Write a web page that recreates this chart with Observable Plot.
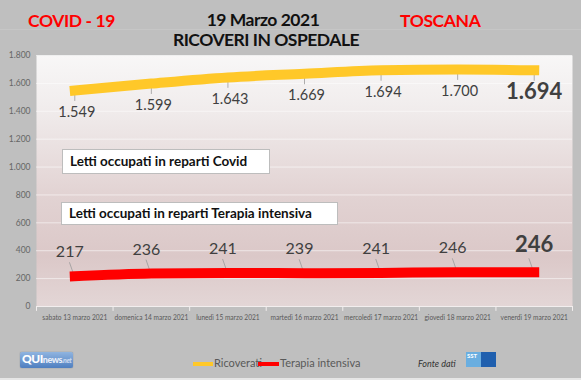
<!DOCTYPE html>
<html>
<head>
<meta charset="utf-8">
<script src="https://cdn.jsdelivr.net/npm/d3@7"></script>
<script src="https://cdn.jsdelivr.net/npm/@observablehq/plot@0.6"></script>
<style>
  html, body { margin: 0; padding: 0; background: #bfbfbf; }
  #wrap { position: relative; width: 581px; height: 380px; overflow: hidden; background: #bfbfbf; font-family: Lato, "Open Sans", sans-serif; }
  #wrap svg { position: absolute; left: 0; top: 0; }
  .abs { position: absolute; white-space: nowrap; }
  .t-red { color: #ff0000; font-weight: 700; font-size: 17.5px; letter-spacing: -0.4px; line-height: 20px; }
  .t-black { color: #111; font-weight: 700; font-size: 17.5px; letter-spacing: -0.5px; line-height: 20px; }
  .box { position: absolute; background: #fff; border: 1px solid #bdbdbd; font-weight: 700; font-size: 13.5px; color: #111; box-sizing: border-box; padding-left: 7px; }
  .leg { position: absolute; font-size: 11px; color: #595959; }
  .sw { position: absolute; height: 4px; }
</style>
</head>
<body>
<div id="wrap"></div>
<script>
const days = ["sabato 13 marzo 2021", "domenica 14 marzo 2021", "lunedì 15 marzo 2021", "martedì 16 marzo 2021", "mercoledì 17 marzo 2021", "giovedì 18 marzo 2021", "venerdì 19 marzo 2021"];
const ricoverati = [1549, 1599, 1643, 1669, 1694, 1700, 1694];
const terapia = [217, 236, 241, 239, 241, 246, 246];
const yTicks = [0, 200, 400, 600, 800, 1000, 1200, 1400, 1600, 1800];

const fmt = v => d3.format(",")(v).replace(/,/g, ".");
const idx = days.map((d, i) => i);
const rows = idx.map(i => ({i, day: days[i], ric: ricoverati[i], ter: terapia[i], last: i === days.length - 1}));
const bounds = d3.range(-0.5, days.length, 1);

const chart = Plot.plot({
  width: 581,
  height: 380,
  marginLeft: 36,
  marginRight: 9,
  marginTop: 55,
  marginBottom: 74,
  style: {background: "transparent", fontFamily: "Lato, 'Open Sans', sans-serif", overflow: "visible"},
  x: {domain: [-0.5, days.length - 0.5], axis: null},
  y: {domain: [0, 1800], axis: null},
  marks: [
    Plot.frame({fill: "url(#bgGrad)", stroke: null}),
    Plot.ruleY(yTicks, {stroke: "#ffffff", strokeOpacity: 0.55, strokeWidth: 1}),
    Plot.ruleY([0], {stroke: "#f2eeee", strokeWidth: 1}),
    Plot.ruleX(bounds, {x: d => d, y1: 0, y2: -35, stroke: "#f2eeee", strokeWidth: 1}),
    Plot.axisY({ticks: yTicks, tickFormat: fmt, tickSize: 0, tickPadding: 6, fontSize: 8.5, fill: "#666", label: null}),
    Plot.text(rows, {x: "i", y: 0, text: "day", dy: 11, fontSize: 6.6, fill: "#595959"}),
    // leader lines
    Plot.link(rows, {x1: "i", x2: "i", y1: d => d.ric - 10, y2: d => d.ric - 75, stroke: "#9a9a9a", strokeWidth: 0.8}),
    Plot.link(rows, {x1: d => d.i - 0.07, x2: "i", y1: d => d.ter + 100, y2: d => d.ter - 10, stroke: "#9a9a9a", strokeWidth: 0.8}),
    // lines
    Plot.line(rows, {x: "i", y: "ric", stroke: "#ffc829", strokeWidth: 10, curve: "monotone-x", strokeLinecap: "square"}),
    Plot.line(rows, {x: "i", y: "ter", stroke: "#ff0000", strokeWidth: 10, curve: "monotone-x", strokeLinecap: "square"}),
    // labels
    Plot.text(rows.filter(d => !d.last), {x: "i", y: "ric", text: d => fmt(d.ric), dy: 22, dx: 2, fontSize: 14.5, fill: "#404040"}),
    Plot.text(rows.filter(d => d.last), {x: "i", y: "ric", text: d => fmt(d.ric), dy: 22, fontSize: 22, fontWeight: "bold", fill: "#404040"}),
    Plot.text(rows.filter(d => !d.last), {x: "i", y: "ter", text: d => fmt(d.ter), dy: -24, dx: -5, fontSize: 16, fill: "#404040"}),
    Plot.text(rows.filter(d => d.last), {x: "i", y: "ter", text: d => fmt(d.ter), dy: -27, fontSize: 22, fontWeight: "bold", fill: "#404040"})
  ]
});

const ns = "http://www.w3.org/2000/svg";
const defs = document.createElementNS(ns, "defs");
defs.innerHTML = `<linearGradient id="bgGrad" x1="0" y1="0" x2="0" y2="1">
  <stop offset="0" stop-color="#f8f7f7"/>
  <stop offset="0.2" stop-color="#f1eded"/>
  <stop offset="0.55" stop-color="#e2d3d3"/>
  <stop offset="0.8" stop-color="#dbc8c8"/>
  <stop offset="1" stop-color="#e3d6d6"/>
</linearGradient>`;
chart.insertBefore(defs, chart.firstChild);

const wrap = document.getElementById("wrap");
wrap.appendChild(chart);

wrap.insertAdjacentHTML("beforeend", `
  <div class="abs" style="left:0;top:29px;width:581px;height:1px;background:#c6c6c6"></div>
  <div class="abs t-red" style="left:28px;top:11px">COVID - 19</div>
  <div class="abs t-black" style="left:0;width:526px;text-align:center;top:10px">19 Marzo 2021</div>
  <div class="abs t-black" style="left:0;width:532px;text-align:center;top:30px">RICOVERI IN OSPEDALE</div>
  <div class="abs t-red" style="left:400px;top:11px">TOSCANA</div>
  <div class="box" style="left:62px;top:149px;width:208px;height:25px;line-height:23px">Letti occupati in reparti Covid</div>
  <div class="box" style="left:61px;top:202px;width:277px;height:23px;line-height:21px">Letti occupati in reparti Terapia intensiva</div>
  <div class="sw" style="left:193px;top:362px;width:20px;background:#ffc829"></div>
  <div class="leg" style="left:214px;top:356px">Ricoverati</div>
  <div class="sw" style="left:258px;top:362px;width:21px;background:#ff0000"></div>
  <div class="leg" style="left:280px;top:356px">Terapia intensiva</div>
  <div class="abs" style="left:418px;top:358px;font-size:9px;font-style:italic;color:#333">Fonte dati</div>
  <div class="abs" style="left:20px;top:352px;width:53px;height:16px;border-radius:2px;background:linear-gradient(#8fb4e0,#4f7fc0);box-shadow:0 0 1px #567"></div>
  <div class="abs" style="left:22px;top:351px;font-size:12px;font-weight:900;color:#fff;letter-spacing:-0.5px">QUI<span style="font-size:9px;color:#e8eef8">news</span><span style="font-size:7px;font-style:italic;color:#c8d8ee">.net</span></div>
  <div class="abs" style="left:466px;top:352px;width:15px;height:15px;background:#6aaee0"></div>
  <div class="abs" style="left:467px;top:352px;font-size:6px;font-weight:700;color:#fff">SST</div>
  <div class="abs" style="left:481px;top:352px;width:15px;height:15px;background:#1f5fae"></div>
  <div class="abs" style="left:0;top:378px;width:581px;height:2px;background:#e6e6e6"></div>
`);
</script>
</body>
</html>
